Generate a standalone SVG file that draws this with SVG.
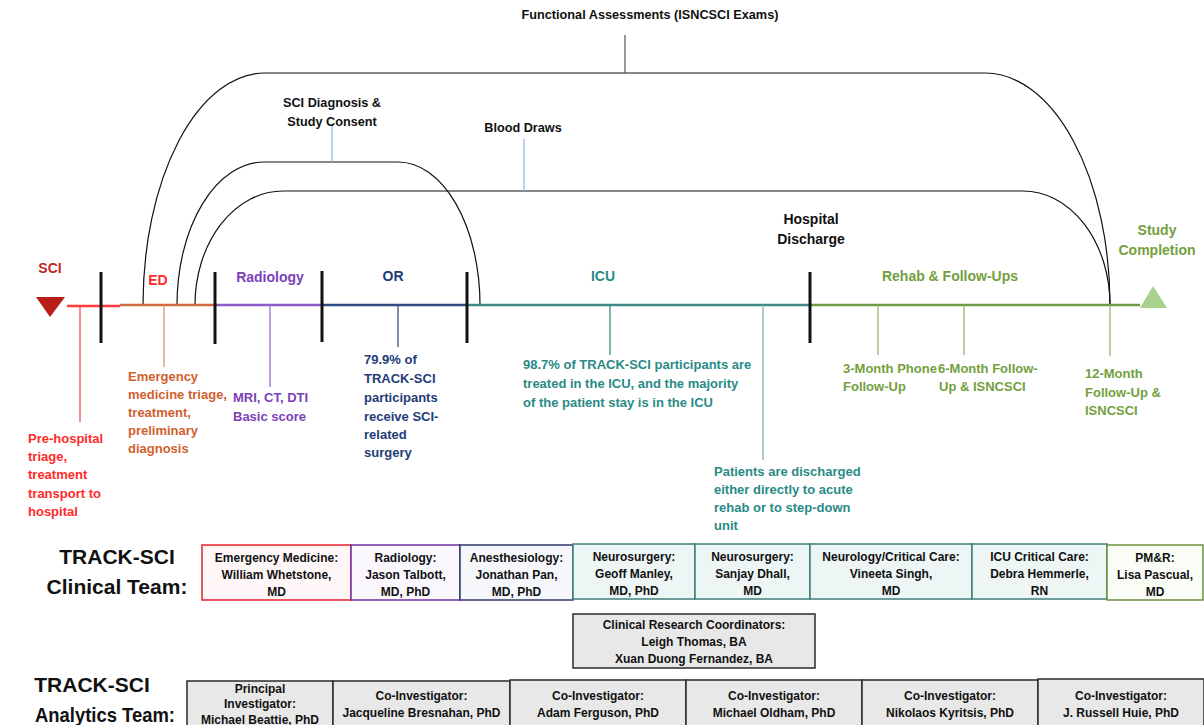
<svg xmlns="http://www.w3.org/2000/svg" width="1204" height="725" viewBox="0 0 1204 725">
<style>
text{font-family:"Liberation Sans",Arial,sans-serif;font-weight:bold}
.lbl{font-size:12.7px;fill:#111}
.hdr{font-size:14px}
.ann{font-size:13px}
.box{font-size:12px;fill:#111;text-anchor:middle}
.big{font-size:21px;fill:#111;text-anchor:middle}
.arc{fill:none;stroke:#111;stroke-width:1.2}
.tick{stroke:#111;stroke-width:3}
.drop{stroke-width:1.3}
.tl{stroke-width:2.5;fill:none}
.mid{text-anchor:middle}
.gray{fill:#E8E8E8;stroke:#2a2a2a;stroke-width:1.5}
.red{fill:#FF2A2A}.org{fill:#D0602F}.pur{fill:#7B3FB8}.nav{fill:#1F3C78}.tea{fill:#2A8A86}.grn{fill:#73A03E}
</style>

<g id="connectors">
  <path class="arc" d="M143,305 A122,232 0 0 1 265,73 L985,73 A125,232 0 0 1 1110,305"/>
  <path class="arc" d="M177,305 A87,143 0 0 1 264,162 L398,162 A82,143 0 0 1 480,305"/>
  <path class="arc" d="M195,305 A88,114 0 0 1 283,191 L1023,191 A87,114 0 0 1 1110,305"/>
  <line x1="625" y1="35" x2="625" y2="73" stroke="#555" stroke-width="1.2"/>
  <line x1="332" y1="125" x2="332" y2="162" stroke="#8DB4E2" stroke-width="1.2"/>
  <line x1="524" y1="139" x2="524" y2="191" stroke="#8DB4E2" stroke-width="1.2"/>

  <line class="tl" x1="67" y1="306" x2="120" y2="306" stroke="#FF3B3B"/>
  <line class="tl" x1="120" y1="305" x2="215" y2="305" stroke="#D2693C"/>
  <line class="tl" x1="215" y1="305" x2="322" y2="305" stroke="#8E5BC8"/>
  <line class="tl" x1="322" y1="305" x2="467" y2="305" stroke="#2F4A82"/>
  <line class="tl" x1="467" y1="305" x2="810" y2="305" stroke="#3D8A86"/>
  <line class="tl" x1="810" y1="305" x2="1140" y2="305" stroke="#6F9A45"/>

  <line class="drop" x1="80" y1="306" x2="80" y2="422" stroke="#FF5050"/>
  <line class="drop" x1="164" y1="305" x2="164" y2="367" stroke="#E8906A"/>
  <line class="drop" x1="270" y1="305" x2="270" y2="387" stroke="#9B6FCF"/>
  <line class="drop" x1="398" y1="305" x2="398" y2="347" stroke="#3B4F86"/>
  <line class="drop" x1="610" y1="305" x2="610" y2="355" stroke="#3E8B87"/>
  <line class="drop" x1="763" y1="305" x2="763" y2="460" stroke="#7FB5B2"/>
  <line class="drop" x1="878" y1="305" x2="878" y2="355" stroke="#93B86A"/>
  <line class="drop" x1="964" y1="305" x2="964" y2="355" stroke="#93B86A"/>
  <line class="drop" x1="1110" y1="305" x2="1110" y2="356" stroke="#93B86A"/>

  <line class="tick" x1="101" y1="272" x2="101" y2="343"/>
  <line class="tick" x1="215" y1="272" x2="215" y2="344"/>
  <line class="tick" x1="322" y1="271" x2="322" y2="342"/>
  <line class="tick" x1="467" y1="272" x2="467" y2="343"/>
  <line class="tick" x1="810" y1="272" x2="810" y2="343"/>
</g>

<g id="top-labels">
  <text class="lbl mid" x="650" y="19">Functional Assessments (ISNCSCI Exams)</text>
  <text class="lbl mid" x="332" y="107">SCI Diagnosis &amp;</text>
  <text class="lbl mid" x="332" y="126">Study Consent</text>
  <text class="lbl mid" x="523" y="132">Blood Draws</text>
</g>

<g id="sci">
  <polygon points="36,297 65,297 50,317" fill="#B81D18"/>
  <text class="hdr mid" x="50" y="273" fill="#C0281E">SCI</text>
  <text class="ann red" x="28" y="443">Pre-hospital</text>
  <text class="ann red" x="28" y="461">triage,</text>
  <text class="ann red" x="28" y="479">treatment</text>
  <text class="ann red" x="28" y="498">transport to</text>
  <text class="ann red" x="28" y="516">hospital</text>
</g>

<g id="ed">
  <text class="hdr mid" x="158" y="285" fill="#FF2B2B">ED</text>
  <text class="ann org" x="128" y="381">Emergency</text>
  <text class="ann org" x="128" y="399">medicine triage,</text>
  <text class="ann org" x="128" y="417">treatment,</text>
  <text class="ann org" x="128" y="435">preliminary</text>
  <text class="ann org" x="128" y="453">diagnosis</text>
</g>

<g id="radiology">
  <text class="hdr mid pur" x="270" y="282">Radiology</text>
  <text class="ann pur" x="233" y="402">MRI, CT, DTI</text>
  <text class="ann pur" x="233" y="421">Basic score</text>
</g>

<g id="or">
  <text class="hdr mid nav" x="393" y="281">OR</text>
  <text class="ann nav" x="364" y="364">79.9% of</text>
  <text class="ann nav" x="364" y="383">TRACK-SCI</text>
  <text class="ann nav" x="364" y="402">participants</text>
  <text class="ann nav" x="364" y="421">receive SCI-</text>
  <text class="ann nav" x="364" y="439">related</text>
  <text class="ann nav" x="364" y="457">surgery</text>
</g>

<g id="icu">
  <text class="hdr mid tea" x="603" y="281">ICU</text>
  <text class="ann tea" x="523" y="369">98.7% of TRACK-SCI participants are</text>
  <text class="ann tea" x="523" y="388">treated in the ICU, and the majority</text>
  <text class="ann tea" x="523" y="407">of the patient stay is in the ICU</text>
  <text class="ann tea" x="714" y="476">Patients are discharged</text>
  <text class="ann tea" x="714" y="494">either directly to acute</text>
  <text class="ann tea" x="714" y="512">rehab or to step-down</text>
  <text class="ann tea" x="714" y="530">unit</text>
</g>

<g id="discharge">
  <text class="hdr mid" x="811" y="224" fill="#111">Hospital</text>
  <text class="hdr mid" x="811" y="244" fill="#111">Discharge</text>
</g>

<g id="rehab">
  <text class="hdr mid grn" x="950" y="281">Rehab &amp; Follow-Ups</text>
  <text class="ann grn" x="843" y="373">3-Month Phone</text>
  <text class="ann grn" x="843" y="391">Follow-Up</text>
  <text class="ann grn" x="938" y="373">6-Month Follow-</text>
  <text class="ann grn" x="939" y="391">Up &amp; ISNCSCI</text>
  <text class="ann grn" x="1085" y="378">12-Month</text>
  <text class="ann grn" x="1085" y="397">Follow-Up &amp;</text>
  <text class="ann grn" x="1085" y="415">ISNCSCI</text>
</g>

<g id="completion">
  <polygon points="1140,308 1167,308 1153,286" fill="#A9D18E"/>
  <text class="hdr mid grn" x="1157" y="235">Study</text>
  <text class="hdr mid grn" x="1157" y="255">Completion</text>
</g>

<g id="clinical-team">
  <text class="big" x="117" y="564">TRACK-SCI</text>
  <text class="big" x="117" y="594">Clinical Team:</text>
  <g id="c-em"><rect x="202" y="545" width="149" height="55" fill="#FFF7F7" stroke="#E8202A" stroke-width="1.5"/>
    <text class="box" x="276.5" y="562">Emergency Medicine:</text><text class="box" x="276.5" y="579">William Whetstone,</text><text class="box" x="276.5" y="596">MD</text></g>
  <g id="c-rad"><rect x="351" y="545" width="109" height="55" fill="#FAF7FD" stroke="#7030A0" stroke-width="1.5"/>
    <text class="box" x="405.5" y="562">Radiology:</text><text class="box" x="405.5" y="579">Jason Talbott,</text><text class="box" x="405.5" y="596">MD, PhD</text></g>
  <g id="c-ane"><rect x="460" y="545" width="113" height="55" fill="#F6F7FB" stroke="#2F3B6B" stroke-width="1.5"/>
    <text class="box" x="516.5" y="562">Anesthesiology:</text><text class="box" x="516.5" y="579">Jonathan Pan,</text><text class="box" x="516.5" y="596">MD, PhD</text></g>
  <g id="c-ns1"><rect x="573" y="544" width="122" height="55" fill="#EEF5F5" stroke="#3F7F7C" stroke-width="1.5"/>
    <text class="box" x="634" y="561">Neurosurgery:</text><text class="box" x="634" y="578">Geoff Manley,</text><text class="box" x="634" y="595">MD, PhD</text></g>
  <g id="c-ns2"><rect x="695" y="544" width="115" height="55" fill="#EEF5F5" stroke="#3F7F7C" stroke-width="1.5"/>
    <text class="box" x="752.5" y="561">Neurosurgery:</text><text class="box" x="752.5" y="578">Sanjay Dhall,</text><text class="box" x="752.5" y="595">MD</text></g>
  <g id="c-neu"><rect x="810" y="544" width="162" height="55" fill="#EEF5F5" stroke="#3F7F7C" stroke-width="1.5"/>
    <text class="box" x="891" y="561">Neurology/Critical Care:</text><text class="box" x="891" y="578">Vineeta Singh,</text><text class="box" x="891" y="595">MD</text></g>
  <g id="c-icu"><rect x="972" y="544" width="135" height="55" fill="#EEF5F5" stroke="#3F7F7C" stroke-width="1.5"/>
    <text class="box" x="1039.5" y="561">ICU Critical Care:</text><text class="box" x="1039.5" y="578">Debra Hemmerle,</text><text class="box" x="1039.5" y="595">RN</text></g>
  <g id="c-pmr"><rect x="1107" y="545" width="96" height="55" fill="#FAFCF6" stroke="#6E8E3E" stroke-width="1.5"/>
    <text class="box" x="1155" y="562">PM&amp;R:</text><text class="box" x="1155" y="579">Lisa Pascual,</text><text class="box" x="1155" y="596">MD</text></g>
</g>

<g id="crc">
  <rect class="gray" x="573" y="614" width="242" height="54"/>
  <text class="box" x="694" y="629">Clinical Research Coordinators:</text>
  <text class="box" x="694" y="646">Leigh Thomas, BA</text>
  <text class="box" x="694" y="663">Xuan Duong Fernandez, BA</text>
</g>

<g id="analytics-team">
  <text class="big" x="92" y="692">TRACK-SCI</text>
  <text class="big" x="105" y="722" textLength="140" lengthAdjust="spacingAndGlyphs">Analytics Team:</text>
  <g id="a-pi"><rect class="gray" x="187" y="681" width="146" height="60"/>
    <text class="box" x="260" y="693">Principal</text><text class="box" x="260" y="708">Investigator:</text><text class="box" x="260" y="724">Michael Beattie, PhD</text></g>
  <g id="a-jb"><rect class="gray" x="333" y="681" width="177" height="60"/>
    <text class="box" x="421.5" y="700">Co-Investigator:</text><text class="box" x="421.5" y="717">Jacqueline Bresnahan, PhD</text></g>
  <g id="a-af"><rect class="gray" x="510" y="680" width="176" height="60"/>
    <text class="box" x="598" y="700">Co-Investigator:</text><text class="box" x="598" y="717">Adam Ferguson, PhD</text></g>
  <g id="a-mo"><rect class="gray" x="686" y="680" width="176" height="60"/>
    <text class="box" x="774" y="700">Co-Investigator:</text><text class="box" x="774" y="717">Michael Oldham, PhD</text></g>
  <g id="a-nk"><rect class="gray" x="862" y="680" width="176" height="60"/>
    <text class="box" x="950" y="700">Co-Investigator:</text><text class="box" x="950" y="717">Nikolaos Kyritsis, PhD</text></g>
  <g id="a-rh"><rect class="gray" x="1038" y="679" width="166" height="60"/>
    <text class="box" x="1121" y="700">Co-Investigator:</text><text class="box" x="1121" y="717">J. Russell Huie, PhD</text></g>
</g>
</svg>
